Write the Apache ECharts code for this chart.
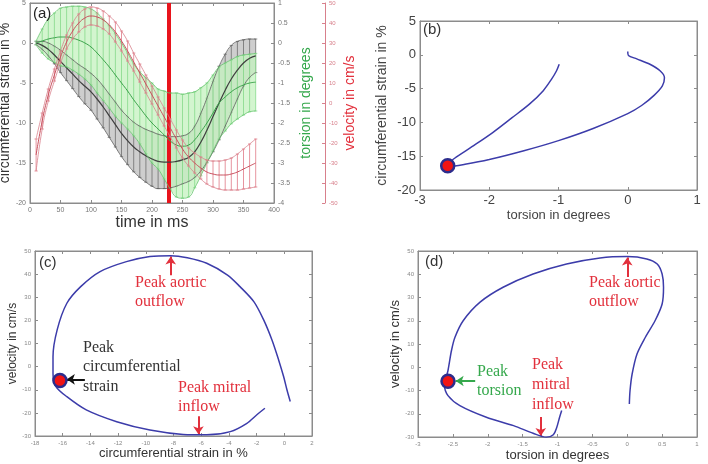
<!DOCTYPE html>
<html>
<head>
<meta charset="utf-8">
<script src="https://cdn.jsdelivr.net/npm/echarts@6/dist/echarts.min.js"></script>
<style>
html, body { margin: 0; padding: 0; background: #fff; }
#main { width: 708px; height: 464px; }
</style>
</head>
<body>
<div id="main"></div>
<script>
// (a) mean +/- SD time courses
var times = [10, 20, 30, 40, 50, 60, 70, 80, 90, 100, 110, 120, 130, 140, 150, 160, 170, 180, 190, 200,
    210, 220, 230, 240, 250, 260, 270, 280, 290, 300, 310, 320, 330, 340, 350, 360, 370];
var strainMean = [0, -0.3, -0.8, -1.5, -2.3, -3.1, -3.9, -4.7, -5.4, -6.1, -7.0, -8.0, -9.1, -10.2, -11.3, -12.2, -13.0, -13.6, -14.1, -14.5,
    -14.8, -14.9, -14.9, -14.8, -14.6, -14.3, -13.6, -12.4, -10.9, -9.2, -7.5, -5.9, -4.5, -3.4, -2.5, -1.9, -1.6];
var strainSd = [0.2, 0.5, 0.8, 1.1, 1.4, 1.6, 1.8, 2.0, 2.2, 2.3, 2.5, 2.6, 2.7, 2.8, 2.9, 3.0, 3.1, 3.2, 3.3, 3.4,
    3.4, 3.3, 3.2, 3.1, 3.0, 3.0, 3.2, 3.6, 4.0, 4.4, 4.6, 4.5, 4.2, 3.6, 2.9, 2.4, 2.1];
var torsionMean = [0, 0.05, 0.1, 0.13, 0.15, 0.15, 0.12, 0.07, 0, -0.1, -0.25, -0.42, -0.6, -0.8, -1.0, -1.2, -1.42, -1.62, -1.82, -2.0,
    -2.15, -2.3, -2.45, -2.55, -2.58, -2.55, -2.42, -2.22, -2.0, -1.75, -1.5, -1.35, -1.22, -1.12, -1.05, -1.0, -0.98];
var torsionSd = [0.05, 0.3, 0.5, 0.62, 0.72, 0.75, 0.8, 0.85, 0.9, 0.95, 1.0, 1.02, 1.03, 1.03, 1.0, 0.95, 0.9, 0.9, 0.95, 1.0,
    1.0, 1.1, 1.2, 1.3, 1.3, 1.3, 1.2, 1.1, 1.0, 0.95, 0.9, 0.85, 0.8, 0.78, 0.75, 0.72, 0.72];
var velocityMean = [-26, -9, 4, 14, 23, 30.5, 36, 40, 42.5, 43.5, 43, 41.5, 39, 35.5, 31, 26, 20.5, 15, 9.5, 4,
    -1.5, -7, -12.5, -18, -23, -27, -30, -32.5, -34.5, -35.5, -36, -36, -35.5, -34.5, -33, -31.5, -30];
var velocitySd = [8, 4, 3, 3, 3, 3.5, 4, 4.5, 4.5, 4.5, 4.5, 4.5, 4.5, 5, 5, 5, 4.5, 4.5, 4.5, 4.5,
    4.5, 4.5, 4.5, 4.5, 4.5, 4.5, 5, 5.5, 6, 6.5, 7, 7.5, 8, 9, 10, 11, 12];
var markerTime = 228;

// (b) torsion vs strain
var bTorsion = [0, 0.01, 0.13, 0.32, 0.47, 0.53, 0.5, 0.38, 0.2, 0, -0.5, -1, -1.5, -2, -2.35, -2.57,
    -2.6, -2.5, -2.25, -1.95, -1.67, -1.42, -1.22, -1.1, -1.03, -0.99];
var bStrain = [0.5, -0.1, -0.6, -1.4, -2.4, -3.4, -4.6, -6.0, -7.5, -8.7, -10.9, -12.7, -14.2, -15.5, -16.2, -16.5,
    -16.3, -15.3, -13.6, -11.5, -9.3, -7.3, -5.3, -3.6, -2.4, -1.4];
var bPeak = [-2.6, -16.4];

// (c) strain vs velocity
var cStrain = [0.43, 0.19, -0.05, -0.41, -0.89, -1.49, -2.2, -3.2, -4.1, -5.6, -7.0, -8.2, -9.7, -11.4, -13.3, -14.7,
    -15.7, -16.4, -16.7, -16.7, -16.5, -15.7, -14.3, -12.1, -9.7, -7.3, -5.6, -3.9, -2.7, -2.0, -1.4];
var cVelocity = [-15.1, -10, -4.3, 2.9, 11.5, 20.2, 28.1, 34.6, 39.6, 44.7, 47.1, 48, 47.6, 45.4, 41.1, 34.6,
    27.4, 15.9, 4.3, -2.9, -8.5, -13, -18.7, -23.8, -27.4, -29.3, -29.5, -28.1, -24.5, -20.9, -18];
var cPeak = [-16.2, -6];

// (d) torsion vs velocity
var dTorsion = [0.03, 0.04, 0.07, 0.14, 0.26, 0.4, 0.5, 0.52, 0.5, 0.43, 0.28, 0, -0.39, -0.87, -1.35, -1.78,
    -2.11, -2.35, -2.47, -2.52, -2.57, -2.62, -2.57, -2.4, -2.02, -1.63, -1.35, -1.16, -1.06, -1.01, -0.97, -0.94];
var dVelocity = [-15.8, -10, -2.9, 5.7, 12.9, 20.1, 27.2, 34.4, 40.1, 44.4, 46.6, 47.6, 47, 44.4, 40.1, 34.4,
    28, 20.1, 12.9, 7.2, -1.4, -7.9, -12.2, -16.5, -21.5, -25.1, -28.4, -30.1, -29, -25.8, -21.5, -18.6];
var dPeak = [-2.57, -6];

// axis ranges [min, max, interval]
var timeRange = [0, 400, 50];
var strainRange = [-20, 5, 5];
var torsionRangeA = [-4, 1, 0.5];
var velocityRangeA = [-50, 50, 10];
var torsionRangeB = [-3, 1, 1];
var strainRangeC = [-18, 2, 2];
var velocityRange = [-30, 50, 10];
var torsionRangeD = [-3, 1, 0.5];

var BOX = '#8c8c8c';
var CURVE = '#3c3caa';
var RED = '#e2303c';
var GREEN = '#35a84c';

function zip(xs, ys) {
    return xs.map(function (x, i) { return [x, ys[i]]; });
}

function axis(gridIndex, position, range, label, extra) {
    var a = {
        type: 'value', gridIndex: gridIndex, position: position,
        min: range[0], max: range[1], interval: range[2],
        splitLine: {show: false},
        axisLine: {show: true, onZero: false, lineStyle: {color: BOX, width: 1}},
        axisTick: {show: true, inside: true, length: 3, lineStyle: {color: BOX}},
        axisLabel: {show: false}
    };
    if (label) {
        a.axisLabel = {show: true, showMinLabel: true, showMaxLabel: true,
            fontSize: label.size, color: label.color, margin: label.margin};
    }
    for (var k in extra) a[k] = extra[k];
    return a;
}

function nameStyle(size, color) {
    return {fontSize: size, color: color};
}

// band of mean +/- sd as one polygon
function bandSeries(yIdx, mean, sd, color, opacity, z) {
    return {
        type: 'custom', xAxisIndex: 0, yAxisIndex: yIdx, silent: true, z: z, clip: true,
        data: times.map(function (t, i) { return [t, mean[i] - sd[i], mean[i] + sd[i]]; }),
        encode: {x: 0, y: [1, 2]},
        renderItem: function (params, api) {
            if (params.dataIndex !== 0) return null;
            var pts = [];
            for (var i = 0; i < times.length; i++) pts.push(api.coord([times[i], mean[i] - sd[i]]));
            for (var j = times.length - 1; j >= 0; j--) pts.push(api.coord([times[j], mean[j] + sd[j]]));
            return {type: 'polygon', shape: {points: pts}, style: {fill: color, opacity: opacity}};
        }
    };
}

function errorSeries(yIdx, mean, sd, color, z) {
    return {
        type: 'custom', xAxisIndex: 0, yAxisIndex: yIdx, silent: true, z: z, clip: true,
        data: times.map(function (t, i) { return [t, mean[i] - sd[i], mean[i] + sd[i]]; }),
        encode: {x: 0, y: [1, 2]},
        renderItem: function (params, api) {
            var lo = api.coord([api.value(0), api.value(1)]);
            var hi = api.coord([api.value(0), api.value(2)]);
            var w = 1.6, st = {stroke: color, lineWidth: 0.8};
            return {type: 'group', children: [
                {type: 'line', shape: {x1: lo[0], y1: lo[1], x2: hi[0], y2: hi[1]}, style: st},
                {type: 'line', shape: {x1: lo[0] - w, y1: lo[1], x2: lo[0] + w, y2: lo[1]}, style: st},
                {type: 'line', shape: {x1: hi[0] - w, y1: hi[1], x2: hi[0] + w, y2: hi[1]}, style: st}
            ]};
        }
    };
}

function lineSeries(yIdx, values, color, width, z) {
    return {
        type: 'line', xAxisIndex: 0, yAxisIndex: yIdx, silent: true, z: z,
        data: zip(times, values), symbol: 'none', smooth: true,
        lineStyle: {color: color, width: width}
    };
}

function offsetBy(mean, sd, sign) {
    return mean.map(function (m, i) { return m + sign * sd[i]; });
}

function loopSeries(xIdx, yIdx, xs, ys, arrows) {
    return {
        type: 'line', xAxisIndex: xIdx, yAxisIndex: yIdx, silent: true, z: 5,
        data: zip(xs, ys), symbol: 'none', smooth: 0.3,
        lineStyle: {color: CURVE, width: 1.5},
        markLine: arrows ? {
            silent: true, symbol: ['none', 'arrow'], symbolSize: 8, animation: false,
            label: {show: false},
            data: arrows.map(function (a) {
                return [{coord: a[0], lineStyle: {color: a[2], width: 2, type: 'solid'}, itemStyle: {color: a[2]}},
                    {coord: a[1]}];
            })
        } : undefined
    };
}

function peakSeries(xIdx, yIdx, p) {
    return {
        type: 'scatter', xAxisIndex: xIdx, yAxisIndex: yIdx, silent: true, z: 6,
        data: [p], symbolSize: 13,
        itemStyle: {color: '#f01414', borderColor: '#2c2c8c', borderWidth: 2.5, opacity: 1}
    };
}

var smallA = {size: 7, color: '#777', margin: 4};
var smallCD = {size: 6, color: '#888', margin: 4};
var bigB = {size: 13, color: '#444', margin: 4};

var grids = [
    {left: 30, top: 3, width: 244, height: 200},
    {left: 420, top: 21, width: 277, height: 169},
    {left: 35, top: 251, width: 277, height: 185},
    {left: 418, top: 251, width: 279, height: 186}
].map(function (g) {
    g.show = true; g.borderColor = BOX; g.borderWidth = 1; g.containLabel = false; g.outerBoundsMode = 'none';
    return g;
});

var xAxes = [
    axis(0, 'bottom', timeRange, smallA, {name: 'time in ms', nameLocation: 'middle', nameGap: 9,
        nameTextStyle: nameStyle(16, '#333')}),
    axis(0, 'top', timeRange, null),
    axis(1, 'bottom', torsionRangeB, bigB, {name: 'torsion in degrees', nameLocation: 'middle', nameGap: 19,
        nameTextStyle: nameStyle(13, '#444')}),
    axis(1, 'top', torsionRangeB, null),
    axis(2, 'bottom', strainRangeC, smallCD, {name: 'circumferential strain in %', nameLocation: 'middle', nameGap: 11,
        nameTextStyle: nameStyle(13, '#333')}),
    axis(2, 'top', strainRangeC, null),
    axis(3, 'bottom', torsionRangeD, smallCD, {name: 'torsion in degrees', nameLocation: 'middle', nameGap: 12,
        nameTextStyle: nameStyle(13, '#333')}),
    axis(3, 'top', torsionRangeD, null)
];

var yAxes = [
    axis(0, 'left', strainRange, smallA, {name: 'circumferential strain in %', nameLocation: 'middle', nameGap: 12,
        nameTextStyle: nameStyle(14, '#333')}),
    axis(0, 'right', torsionRangeA, smallA, {name: 'torsion in degrees', nameLocation: 'middle', nameGap: 25,
        nameTextStyle: nameStyle(14, GREEN)}),
    axis(0, 'right', velocityRangeA, {size: 6, color: '#d8808c', margin: 4}, {offset: 51,
        name: 'velocity in cm/s', nameLocation: 'middle', nameGap: 18, nameTextStyle: nameStyle(14, RED),
        axisLine: {show: true, onZero: false, lineStyle: {color: '#d8808c'}},
        axisTick: {show: true, inside: true, length: 3, lineStyle: {color: '#d8808c'}}}),
    axis(1, 'left', strainRange, bigB, {name: 'circumferential strain in %', nameLocation: 'middle', nameGap: 31,
        nameTextStyle: nameStyle(14, '#444')}),
    axis(1, 'right', strainRange, null),
    axis(2, 'left', velocityRange, smallCD, {name: 'velocity in cm/s', nameLocation: 'middle', nameGap: 13,
        nameTextStyle: nameStyle(12, '#333')}),
    axis(2, 'right', velocityRange, null),
    axis(3, 'left', velocityRange, smallCD, {name: 'velocity in cm/s', nameLocation: 'middle', nameGap: 12,
        nameTextStyle: nameStyle(13, '#333')}),
    axis(3, 'right', velocityRange, null)
];

var series = [
    bandSeries(0, strainMean, strainSd, '#c9c9c9', 0.9, 1),
    errorSeries(0, strainMean, strainSd, '#6f6f6f', 2),
    bandSeries(1, torsionMean, torsionSd, '#c4f2bf', 0.75, 3),
    errorSeries(1, torsionMean, torsionSd, '#86d98a', 4),
    lineSeries(0, strainMean, '#3f3f3f', 1.2, 5),
    lineSeries(0, offsetBy(strainMean, strainSd, 1), '#5a5a5a', 0.8, 5),
    lineSeries(0, offsetBy(strainMean, strainSd, -1), '#5a5a5a', 0.8, 5),
    lineSeries(1, torsionMean, '#3aa34a', 1, 6),
    lineSeries(1, offsetBy(torsionMean, torsionSd, 1), '#63c46c', 0.8, 6),
    lineSeries(1, offsetBy(torsionMean, torsionSd, -1), '#63c46c', 0.8, 6),
    errorSeries(2, velocityMean, velocitySd, '#e07886', 7),
    lineSeries(2, velocityMean, '#c9505e', 1, 8),
    lineSeries(2, offsetBy(velocityMean, velocitySd, 1), '#d8808c', 0.8, 8),
    lineSeries(2, offsetBy(velocityMean, velocitySd, -1), '#d8808c', 0.8, 8),
    {
        type: 'line', xAxisIndex: 0, yAxisIndex: 0, silent: true, data: [], z: 9,
        markLine: {silent: true, symbol: 'none', animation: false, label: {show: false},
            lineStyle: {color: '#e8141c', width: 4, type: 'solid'},
            data: [{xAxis: markerTime}]}
    },
    loopSeries(2, 3, bTorsion, bStrain, null),
    peakSeries(2, 3, bPeak),
    loopSeries(4, 5, cStrain, cVelocity, [
        [[-8.2, 39.5], [-8.2, 47.6], RED],
        [[-14.4, -5.5], [-15.7, -5.5], '#111'],
        [[-6.2, -21.5], [-6.2, -29.2], RED]
    ]),
    peakSeries(4, 5, cPeak),
    loopSeries(6, 7, dTorsion, dVelocity, [
        [[0, 38.8], [0, 47.2], RED],
        [[-2.18, -5.9], [-2.46, -5.9], GREEN],
        [[-1.24, -21.4], [-1.24, -29.6], RED]
    ]),
    peakSeries(6, 7, dPeak)
];

// panel letters and annotations (pixel positions, text only)
var notes = [
    ['(a)', 33, 14, 15, '#222', 'sans'],
    ['(b)', 423, 30, 15, '#333', 'sans'],
    ['(c)', 39, 263, 15, '#333', 'sans'],
    ['(d)', 425, 262, 15, '#333', 'sans'],
    ['Peak aortic', 135, 283, 16, RED, 'serif'],
    ['outflow', 135, 302, 16, RED, 'serif'],
    ['Peak', 83, 348, 16, '#333', 'serif'],
    ['circumferential', 83, 367, 16, '#333', 'serif'],
    ['strain', 83, 387, 16, '#333', 'serif'],
    ['Peak mitral', 178, 388, 16, RED, 'serif'],
    ['inflow', 178, 407, 16, RED, 'serif'],
    ['Peak aortic', 589, 283, 16, RED, 'serif'],
    ['outflow', 589, 302, 16, RED, 'serif'],
    ['Peak', 477, 372, 16, GREEN, 'serif'],
    ['torsion', 477, 391, 16, GREEN, 'serif'],
    ['Peak', 532, 365, 16, RED, 'serif'],
    ['mitral', 532, 385, 16, RED, 'serif'],
    ['inflow', 532, 405, 16, RED, 'serif']
];

var option = {
    animation: false,
    backgroundColor: '#fff',
    textStyle: {fontFamily: '"Liberation Sans", Arial, sans-serif'},
    grid: grids,
    xAxis: xAxes,
    yAxis: yAxes,
    series: series,
    graphic: notes.map(function (n) {
        return {
            type: 'text', silent: true, z: 100,
            style: {
                text: n[0], x: n[1], y: n[2], fill: n[4],
                font: n[3] + 'px ' + (n[5] === 'serif' ? '"Liberation Serif", "DejaVu Serif", serif' : '"Liberation Sans", Arial, sans-serif'),
                align: 'left', verticalAlign: 'middle'
            }
        };
    })
};

var myChart = echarts.init(document.getElementById('main'), null, {renderer: 'canvas'});
myChart.setOption(option);
</script>
</body>
</html>
